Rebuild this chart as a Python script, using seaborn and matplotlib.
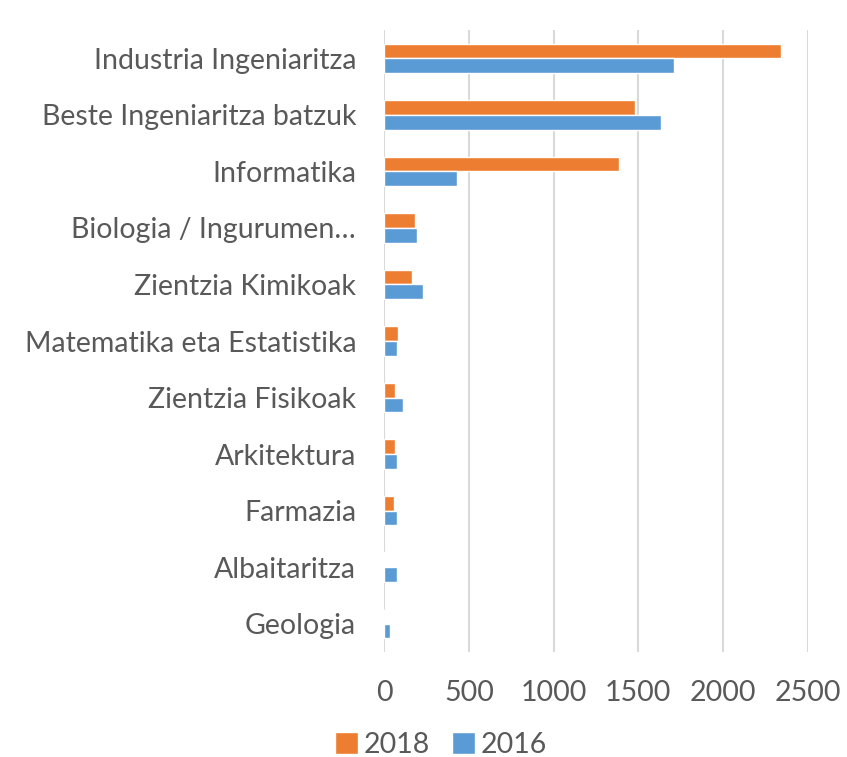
import pandas as pd
import matplotlib.pyplot as plt
import seaborn as sns

# Datos
categorias = ['Industria Ingeniaritza', 'Beste Ingeniaritza batzuk', 'Informatika',
              'Biologia / Ingurumen…', 'Zientzia Kimikoak', 'Matematika eta Estatistika',
              'Zientzia Fisikoak', 'Arkitektura', 'Farmazia', 'Albaitaritza', 'Geologia']
valores_2018 = [2338, 1482, 1383, 183, 165, 85, 67, 67, 57, 5, 0]
valores_2016 = [1712, 1633, 433, 193, 232, 75, 114, 75, 75, 75, 35]
anios = ['2018', '2016']
colores = ['#ED7D31', '#5B9BD5']
ticks_x = [0, 500, 1000, 1500, 2000, 2500]

df = pd.DataFrame({
    'Categoria': categorias * 2,
    'Valor': valores_2018 + valores_2016,
    'Año': [anios[0]] * len(categorias) + [anios[1]] * len(categorias),
})

sns.set_style('white')
plt.rcParams['font.family'] = ['Lato', 'DejaVu Sans']
gris = '#595959'

fig = plt.figure(figsize=(8.47, 7.57), dpi=100)
ax = fig.add_axes([384 / 847, 1 - 652 / 757, (808 - 384) / 847, (652 - 30) / 757])

sns.barplot(data=df, x='Valor', y='Categoria', hue='Año', hue_order=anios,
            palette=colores, orient='h', width=0.52, saturation=1, ax=ax)

ax.set_xlim(0, 2500)
ax.set_xticks(ticks_x)
ax.grid(axis='x', color='#d9d9d9', linewidth=1.5)
ax.set_axisbelow(True)
for s in ax.spines.values():
    s.set_visible(False)
ax.set_xlabel('')
ax.set_ylabel('')
ax.tick_params(axis='both', length=0, labelsize=20.5, labelcolor=gris)
ax.tick_params(axis='x', pad=20)
ax.tick_params(axis='y', pad=20)

handles, labels = ax.get_legend_handles_labels()
ax.get_legend().remove()
fig.legend(handles, labels, loc='center', bbox_to_anchor=(441 / 847, 1 - 745 / 757),
           ncol=2, frameon=False, fontsize=20.5, labelcolor=gris, handlelength=0.8,
           handleheight=0.8, handletextpad=0.2, columnspacing=0.8)

fig.savefig('out.png', dpi=100)
